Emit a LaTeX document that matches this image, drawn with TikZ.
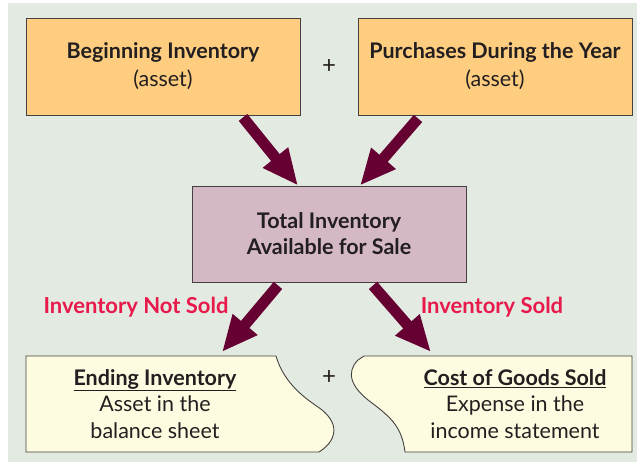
\documentclass[tikz,border=0pt]{standalone}
\usepackage{fontspec}
\setmainfont{Lato}
\usepackage{xcolor}
\usetikzlibrary{arrows.meta,positioning}
\definecolor{bgpale}{HTML}{E3EAE2}
\definecolor{orangebox}{HTML}{FECD80}
\definecolor{mauvebox}{HTML}{D4B8C6}
\definecolor{creambox}{HTML}{FEFCE0}
\definecolor{maroon}{HTML}{660033}
\definecolor{rosered}{HTML}{E8194B}
\definecolor{ink}{HTML}{231F20}

\begin{document}
\begin{tikzpicture}[x=1pt,y=-1pt,
  b/.style={draw=ink!85,line width=0.9pt,align=center,text=ink,font=\fontsize{21.5}{28}\selectfont,minimum width=274pt,minimum height=97pt,inner sep=0pt},
  o/.style={b,fill=orangebox},
  m/.style={b,fill=mauvebox,minimum height=96pt,font=\fontsize{21.5}{26}\selectfont},
  t/.style={align=center,text=ink,font=\fontsize{21.5}{26.5}\selectfont,inner sep=0pt},
  lbl/.style={text=rosered,font=\bfseries\fontsize{22}{24}\selectfont,inner sep=0pt},
  pl/.style={text=ink,font=\fontsize{24}{24}\selectfont,inner sep=0pt},
  ar/.style={-{Triangle[length=36pt,width=30pt]},line width=11pt,maroon}]
\useasboundingbox (0,0) rectangle (637,465);
\fill[bgpale] (8,3) rectangle (637,462);
% top row
\node[o] (beg) at (163,66.5) {\textbf{Beginning Inventory}\\(asset)};
\node[o] (pur) at (495,66.5) {\textbf{Purchases During the Year}\\(asset)};
\node[pl] (plus1) at (329,67) {+};
\node[m] (tot) at (329,234) {\textbf{Total Inventory}\\\textbf{Available for Sale}};
% bottom shapes
\filldraw[fill=creambox,draw=ink!85,line width=0.9pt]
  (26,356) -- (276,356) .. controls (283,380) and (300,395) .. (318,407)
  .. controls (340,422) and (338,440) .. (319,452) -- (26,452) -- cycle;
\filldraw[fill=creambox,draw=ink!85,line width=0.9pt]
  (364,356) -- (632,356) -- (632,452) -- (405,452)
  .. controls (402,428) and (392,418) .. (372,403)
  .. controls (350,387) and (346,372) .. (358,360) -- cycle;
\node[t] (endinv) at (155,404) {\textbf{\underline{Ending Inventory}}\\Asset in the\\balance sheet};
\node[t] (cogs) at (515,404) {\textbf{\underline{Cost of Goods Sold}}\\Expense in the\\income statement};
\node[pl] (plus2) at (329,378) {+};
\node[lbl] (notsold) at (136,307) {Inventory Not Sold};
\node[lbl] (sold) at (492,307) {Inventory Sold};
\coordinate (endtip) at (222,352);
\coordinate (cogstip) at (431,352);
% arrows
\draw[ar] ([xshift=80pt,yshift=-2pt]beg.south) -- ([xshift=-31pt]tot.north);
\draw[ar] ([xshift=-77pt,yshift=-3pt]pur.south) -- ([xshift=31pt]tot.north);
\draw[ar] ([xshift=-51pt,yshift=-3pt]tot.south) -- (endtip);
\draw[ar] ([xshift=44pt,yshift=-3pt]tot.south) -- (cogstip);
\end{tikzpicture}
\end{document}
